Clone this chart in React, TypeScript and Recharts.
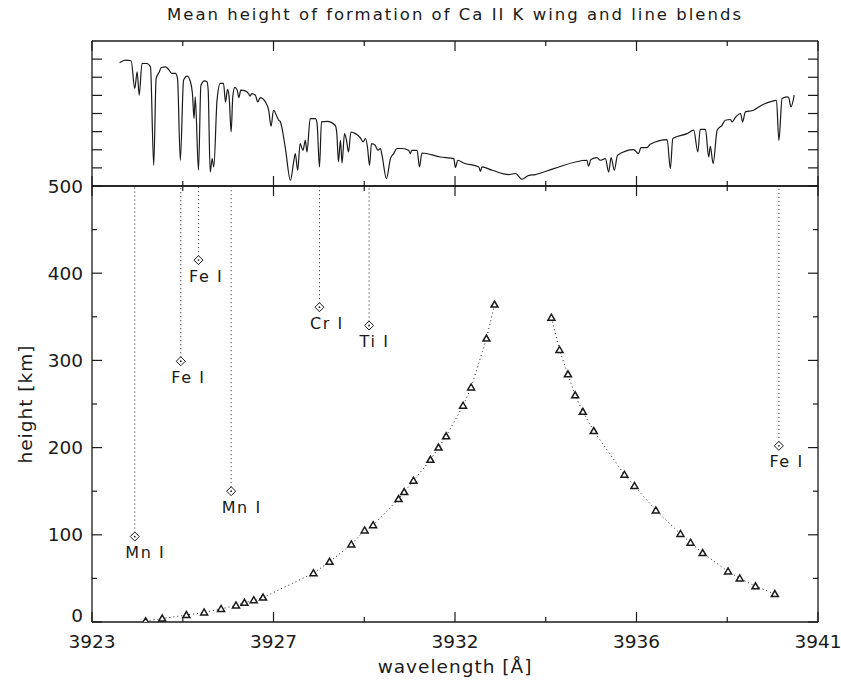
import React from 'react';
import { LineChart, ComposedChart, Line, Scatter, XAxis, YAxis, ReferenceLine } from 'recharts';

// top panel: Ca II K wing spectrum (relative intensity, arbitrary units)
const specWave = [
  3923.685, 3923.83, 3923.97, 3924.06, 3924.12, 3924.17, 3924.24, 3924.36, 3924.45, 3924.53,
  3924.59, 3924.67, 3924.72, 3924.82, 3924.9, 3924.98, 3925.07, 3925.12, 3925.19, 3925.27,
  3925.36, 3925.44, 3925.49, 3925.53, 3925.56, 3925.64, 3925.7, 3925.79, 3925.85, 3925.88,
  3925.93, 3925.98, 3926.02, 3926.1, 3926.18, 3926.26, 3926.31, 3926.36, 3926.4, 3926.45,
  3926.49, 3926.54, 3926.6, 3926.64, 3926.69, 3926.8, 3926.88, 3926.92, 3926.96, 3927.05,
  3927.11, 3927.17, 3927.3, 3927.38, 3927.44, 3927.5, 3927.59, 3927.63, 3927.67, 3927.79,
  3927.92, 3928.0, 3928.04, 3928.1, 3928.16, 3928.23, 3928.29, 3928.33, 3928.41, 3928.54,
  3928.58, 3928.64, 3928.69, 3928.83, 3929.03, 3929.07, 3929.11, 3929.16, 3929.2, 3929.26,
  3929.31, 3929.36, 3929.42, 3929.53, 3929.65, 3929.72, 3929.78, 3929.83, 3929.88, 3929.93,
  3930.02, 3930.09, 3930.15, 3930.19, 3930.3, 3930.4, 3930.48, 3930.56, 3930.69, 3930.85,
  3930.89, 3930.93, 3931.06, 3931.12, 3931.18, 3931.64, 3931.97, 3932.01, 3932.07, 3932.21,
  3932.59, 3932.63, 3932.67, 3932.92, 3933.33, 3933.5, 3933.66, 3933.83, 3933.99, 3934.45,
  3935.27, 3935.31, 3935.37, 3935.52, 3935.6, 3935.73, 3935.81, 3935.87, 3935.95, 3936.03,
  3936.43, 3936.55, 3936.61, 3936.76, 3936.84, 3937.26, 3937.34, 3937.4, 3937.75, 3937.92,
  3938.02, 3938.08, 3938.21, 3938.29, 3938.33, 3938.4, 3938.5, 3938.62, 3938.7, 3938.83,
  3938.87, 3938.95, 3939.08, 3939.13, 3939.2, 3939.4, 3939.53, 3939.65, 3939.9, 3939.97,
  3940.03, 3940.11, 3940.23, 3940.27, 3940.33, 3940.41,
];
const specFlux = [
  6.8, 6.94, 6.91, 5.38, 6.3, 5.01, 6.76, 6.76, 6.57, 1.14,
  5.93, 6.3, 6.54, 6.57, 6.43, 6.21, 6.21, 5.93, 1.42, 5.84,
  6.06, 5.75, 5.1, 3.72, 4.92, 0.87, 5.56, 5.8, 5.75, 5.3,
  0.77, 1.51, 1.05, 4.73, 5.66, 5.66, 4.64, 5.33, 4.92, 2.98,
  4.92, 5.44, 5.29, 4.88, 5.29, 5.25, 5.1, 4.96, 5.1, 5.01,
  4.64, 4.88, 4.64, 4.18, 3.3, 4.18, 3.81, 3.63, 3.54, 2.15,
  0.31, 1.33, 1.79, 0.87, 2.34, 1.97, 2.52, 1.88, 3.72, 3.72,
  3.45, 1.05, 3.54, 3.57, 3.35, 2.9, 1.33, 2.52, 1.27, 2.89,
  2.52, 1.88, 2.98, 2.89, 2.67, 2.43, 2.62, 2.15, 1.14, 2.34,
  2.25, 1.97, 2.07, 1.7, 0.41, 1.51, 1.79, 2.07, 2.07, 1.97,
  1.79, 1.97, 1.97, 1.05, 1.82, 1.6, 1.51, 1.02, 1.42, 1.27,
  1.05, 0.81, 1.05, 0.87, 0.63, 0.69, 0.37, 0.59, 0.63, 0.96,
  1.42, 1.09, 1.46, 1.57, 1.42, 1.51, 0.77, 1.57, 0.87, 1.7,
  2.01, 1.79, 2.12, 2.12, 2.3, 2.56, 0.96, 2.62, 2.89, 3.08,
  1.88, 3.12, 3.12, 1.6, 2.19, 1.24, 3.08, 3.35, 3.63, 3.67,
  3.54, 3.78, 4.0, 3.54, 4.09, 4.18, 4.36, 4.51, 4.7, 4.73,
  2.52, 4.83, 4.92, 4.9, 4.36, 5.01,
];

// bottom panel: mean formation height of the K wing, blue and red side [km]
const blueWave = [
  3924.33, 3924.74, 3925.34, 3925.78, 3926.2, 3926.57, 3926.78, 3927.01, 3927.24, 3928.49,
  3928.89, 3929.43, 3929.76, 3929.97, 3930.6, 3930.74, 3930.97, 3931.39, 3931.59, 3931.78,
  3932.2, 3932.4, 3932.78, 3932.98,
];
const blueHeight = [
  1, 4, 8, 11, 15, 19, 22, 25, 28, 56,
  69, 89, 105, 111, 141, 149, 162, 186, 200, 213,
  248, 269, 325, 364,
];
const redWave = [
  3934.39, 3934.59, 3934.8, 3934.98, 3935.17, 3935.44, 3936.2, 3936.45, 3936.98, 3937.59,
  3937.84, 3938.14, 3938.77, 3939.06, 3939.45, 3939.93,
];
const redHeight = [349, 312, 284, 260, 241, 219, 169, 156, 128, 101, 91, 79, 58, 50, 41, 32];

// line blends
const blendNames = ['Mn I', 'Fe I', 'Fe I', 'Mn I', 'Cr I', 'Ti I', 'Fe I'];
const blendWave = [3924.06, 3925.2, 3925.64, 3926.45, 3928.64, 3929.87, 3940.03];
const blendHeight = [98, 299, 415, 150, 361, 340, 202];

// ticks
const xMajorTicks = [3923, 3927.5, 3932, 3936.5, 3941];
const xMinorTicks = [3925.25, 3929.75, 3934.25, 3938.75];
const yMajorTicks = [0, 100, 200, 300, 400, 500];
const yMinorTicks = [50, 150, 250, 350, 450];
const specTicks = [1, 2, 3, 4, 5, 6, 7];

const FONT = '"DejaVu Sans", sans-serif';
const INK = '#1a1a1a';

const xTicks = [...xMajorTicks, ...xMinorTicks].sort((a, b) => a - b);
const yTicks = [...yMajorTicks, ...yMinorTicks].sort((a, b) => a - b);

const specData = specWave.map((x, i) => ({ x, y: specFlux[i] }));
const blueData = blueWave.map((x, i) => ({ x, y: blueHeight[i] }));
const redData = redWave.map((x, i) => ({ x, y: redHeight[i] }));
const blendData = blendWave.map((x, i) => ({ x, y: blendHeight[i], name: blendNames[i] }));

type Side = 'bottom' | 'top' | 'left' | 'right';

// inward ticks, long for majors and short for minors, labels only where asked
const makeTick = (side: Side, minor: number[], label?: (v: number) => string) => (props: any) => {
  const { x, y, payload } = props;
  const v = payload.value;
  const len = minor.includes(v) ? 5 : 10;
  let x2 = x;
  let y2 = y;
  if (side === 'bottom') y2 = y - len;
  if (side === 'top') y2 = y + len;
  if (side === 'left') x2 = x + len;
  if (side === 'right') x2 = x - len;
  const showText = label && !minor.includes(v);
  // the lowest height label sits on the axis instead of being centred on it
  const dy = v === yMajorTicks[0] ? 0 : 6.5;
  return (
    <g>
      <line x1={x} y1={y} x2={x2} y2={y2} stroke={INK} strokeWidth={1.2} />
      {showText && side === 'bottom' && (
        <text x={x} y={y + 26} textAnchor="middle" fontSize={18.5} fill={INK} fontFamily={FONT}>
          {label!(v)}
        </text>
      )}
      {showText && side === 'left' && (
        <text x={x - 9} y={y + dy} textAnchor="end" fontSize={18.5} fill={INK} fontFamily={FONT}>
          {label!(v)}
        </text>
      )}
    </g>
  );
};

const Triangle = (props: any) => {
  const { cx, cy, index } = props;
  if (cx == null || cy == null) return <g key={index} />;
  return (
    <polygon
      key={index}
      points={`${cx - 3.5},${cy + 2.5} ${cx + 3.5},${cy + 2.5} ${cx},${cy - 3.5}`}
      fill="#fff"
      stroke={INK}
      strokeWidth={1.5}
    />
  );
};

const Diamond = (props: any) => {
  const { cx, cy, payload } = props;
  return (
    <g>
      <polygon
        points={`${cx - 4.5},${cy} ${cx},${cy - 4.5} ${cx + 4.5},${cy} ${cx},${cy + 4.5}`}
        fill="#fff"
        stroke={INK}
        strokeWidth={1}
      />
      <circle cx={cx} cy={cy} r={0.9} fill={INK} />
      <text x={cx - 9.5} y={cy + 21.5} fontSize={16} fill={INK} fontFamily={FONT} letterSpacing={1.6}>
        {payload.name}
      </text>
    </g>
  );
};

// axes are 1px thick so they still render; margins below are reduced by that pixel
const axisLine = { stroke: INK, strokeWidth: 1.3 };

const xAxisCommon = {
  type: 'number' as const,
  dataKey: 'x',
  domain: [3923, 3941],
  allowDataOverflow: true,
  ticks: xTicks,
  interval: 0 as const,
  tickSize: 0,
  tickMargin: 0,
  tickLine: false,
  height: 1,
  axisLine,
};

const yAxisCommon = {
  type: 'number' as const,
  dataKey: 'y',
  allowDataOverflow: true,
  interval: 0 as const,
  width: 1,
  tickSize: 0,
  tickMargin: 0,
  tickLine: false,
  axisLine,
};

const floorLabel = (v: number) => String(Math.floor(v));

export default function App() {
  return (
    <div style={{ position: 'absolute', left: 0, top: 0, width: 841, height: 686, background: '#fff', fontFamily: FONT }}>
      <div
        style={{
          position: 'absolute',
          left: 92,
          width: 726,
          top: 5,
          textAlign: 'center',
          fontSize: 16.5,
          letterSpacing: 2,
          color: INK,
        }}
      >
        Mean height of formation of Ca II K wing and line blends
      </div>

      {/* spectrum panel */}
      <div style={{ position: 'absolute', left: 0, top: 0 }}>
        <LineChart width={841} height={200} data={specData} margin={{ top: 40, right: 22, bottom: 13, left: 91 }}>
          <XAxis xAxisId="b" orientation="bottom" {...xAxisCommon} tick={makeTick('bottom', xMinorTicks)} />
          <XAxis xAxisId="t" orientation="top" {...xAxisCommon} tick={makeTick('top', xMinorTicks)} />
          <YAxis yAxisId="l" orientation="left" {...yAxisCommon} domain={[0, 8]} ticks={specTicks} tick={makeTick('left', [])} />
          <YAxis yAxisId="r" orientation="right" {...yAxisCommon} domain={[0, 8]} ticks={specTicks} tick={makeTick('right', [])} />
          <Line
            xAxisId="b"
            yAxisId="l"
            type="monotone"
            dataKey="y"
            stroke={INK}
            strokeWidth={1.2}
            dot={false}
            isAnimationActive={false}
          />
        </LineChart>
      </div>

      {/* formation height panel */}
      <div style={{ position: 'absolute', left: 0, top: 0 }}>
        <ComposedChart width={841} height={686} margin={{ top: 185, right: 22, bottom: 63, left: 91 }}>
          <XAxis
            xAxisId="b"
            orientation="bottom"
            {...xAxisCommon}
            tick={makeTick('bottom', xMinorTicks, floorLabel)}
            label={{ value: 'wavelength [Å]', position: 'bottom', offset: 37, fontSize: 18.5, fill: INK, fontFamily: FONT, letterSpacing: 1 }}
          />
          <XAxis xAxisId="t" orientation="top" {...xAxisCommon} tick={makeTick('top', xMinorTicks)} />
          <YAxis
            yAxisId="l"
            orientation="left"
            {...yAxisCommon}
            domain={[0, 500]}
            ticks={yTicks}
            tick={makeTick('left', yMinorTicks, (v) => String(v))}
            label={{
              value: 'height [km]',
              angle: -90,
              position: 'left',
              offset: 66,
              fontSize: 18.5,
              fill: INK,
              fontFamily: FONT,
              letterSpacing: 1,
              style: { textAnchor: 'middle' },
            }}
          />
          <YAxis
            yAxisId="r"
            orientation="right"
            {...yAxisCommon}
            domain={[0, 500]}
            ticks={yTicks}
            tick={makeTick('right', yMinorTicks)}
          />
          {blendData.map((d) => (
            <ReferenceLine
              key={`${d.name}-${d.x}`}
              xAxisId="b"
              yAxisId="l"
              segment={[
                { x: d.x, y: d.y },
                { x: d.x, y: 500 },
              ]}
              stroke={INK}
              strokeWidth={1}
              strokeDasharray="1 3"
            />
          ))}
          <Line
            xAxisId="b"
            yAxisId="l"
            data={blueData}
            type="linear"
            dataKey="y"
            stroke={INK}
            strokeWidth={1}
            strokeDasharray="1 3"
            dot={Triangle}
            isAnimationActive={false}
          />
          <Line
            xAxisId="b"
            yAxisId="l"
            data={redData}
            type="linear"
            dataKey="y"
            stroke={INK}
            strokeWidth={1}
            strokeDasharray="1 3"
            dot={Triangle}
            isAnimationActive={false}
          />
          <Scatter
            xAxisId="b"
            yAxisId="l"
            data={blendData}
            dataKey="y"
            shape={Diamond}
            isAnimationActive={false}
          />
        </ComposedChart>
      </div>
    </div>
  );
}
